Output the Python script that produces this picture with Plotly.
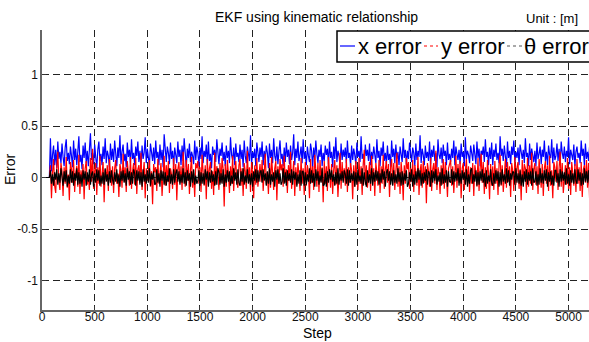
import plotly.graph_objects as go

# ---- data (errors in centimetres, one sample every 10 steps) ----
step_interval = 10
lead_in = [0, 0, 0, 0, 0, 0, 0, 0]

x_error_cm = lead_in + [
    38,6,22,31,12,27,9,35,18,25,14,33,20,11,29,37,16,24,13,30,
    21,10,36,17,28,12,25,40,15,22,8,31,19,34,14,26,11,29,43,17,
    24,13,32,20,9,27,35,16,23,12,30,18,38,14,26,21,10,33,17,28,
    15,36,22,11,29,19,41,13,25,32,16,23,10,34,20,27,14,37,18,24,
    12,30,21,35,15,26,9,31,18,24,39,14,28,20,11,33,23,16,29,13,
    36,19,25,12,32,17,27,10,42,21,15,30,24,13,34,18,26,11,29,22,
    14,35,20,27,12,31,16,38,23,10,28,19,33,15,25,21,13,36,17,30,
    24,11,29,18,40,14,26,20,32,12,35,16,23,9,30,22,27,15,37,19,
    13,28,21,34,16,25,11,31,19,26,14,39,22,17,29,12,33,20,24,15,
    32,18,27,10,36,21,14,30,23,16,41,13,25,19,28,11,34,22,15,29,
    20,35,12,26,17,31,24,9,33,19,27,14,38,21,16,30,13,25,36,18,
    23,11,29,15,34,20,27,13,31,17,24,42,12,28,19,35,16,22,30,14,
    37,18,25,12,30,21,15,33,26,10,29,17,36,23,14,27,20,32,11,24,
    16,31,22,28,13,35,19,25,10,30,18,39,15,26,21,12,33,17,27,20,
    29,14,36,19,24,11,31,17,28,22,13,34,20,26,15,40,18,23,12,32,
    21,27,16,33,12,25,18,30,23,14,37,19,26,11,29,21,35,16,24,13,
    31,17,23,10,36,20,28,14,32,18,25,12,30,22,15,38,19,27,13,26,
    18,34,21,15,29,24,11,33,17,26,20,41,14,28,22,12,31,19,25,16,
    35,13,27,20,31,16,24,10,37,22,18,29,14,32,21,26,12,34,17,23,
    15,28,19,36,12,30,23,17,27,13,33,20,25,11,39,18,26,22,14,31,
    24,16,32,21,13,35,19,28,11,26,22,30,15,37,20,25,12,29,18,34,
    12,27,20,33,17,24,14,40,21,28,16,31,23,10,35,19,26,13,30,22,
    36,15,25,19,29,12,32,22,18,27,14,38,20,24,11,33,17,28,21,15,
    26,11,34,18,23,30,13,27,20,36,16,25,12,31,22,19,37,14,29,17,
    21,33,16,28,12,35,24,18,30,15,26,20,39,13,27,22,17,32,11,25,
    30,19,24,14,36,21,28,12,33,18,25,16,31,23,15,34,20,27,13,29,
]

y_error_cm = lead_in + [
    12,-20,5,18,-8,-15,9,25,-3,-12,14,6,-18,10,-6,20,-10,3,-22,15,
    8,-5,17,-14,4,11,-9,22,-16,7,-3,13,-21,9,16,-7,2,-12,19,-4,
    28,-11,6,14,-17,10,-6,21,-9,3,15,-24,8,-2,12,-13,18,5,-8,11,
    -15,9,17,-6,4,-19,13,7,-10,23,-4,10,-14,16,2,-8,20,-11,6,14,
    -7,19,-16,8,12,-5,24,-12,3,15,-20,9,-3,11,17,-9,6,-26,13,5,
    10,-13,18,-6,7,14,-18,4,21,-8,12,-4,16,-15,9,3,-11,19,-7,13,
    -22,8,15,-5,11,-12,25,6,-9,17,-3,13,-16,7,20,-10,4,-19,14,9,
    16,-6,10,-14,22,5,-8,12,-21,18,-4,9,15,-11,6,-17,24,-7,11,3,
    -12,14,-5,19,8,-28,13,-9,17,4,-15,11,-6,21,-13,7,16,-4,-10,12,
    18,-8,9,-18,14,6,-11,26,-5,10,-14,15,3,-20,12,-7,19,-9,8,13,
    -4,17,-13,11,23,-7,5,-16,14,-10,20,4,-12,9,16,-22,11,-6,18,7,
    13,-9,21,-5,8,-15,12,-3,25,-11,6,16,-18,10,-7,14,3,-13,19,-6,
    9,-17,15,-8,12,4,-20,18,-5,11,-12,22,7,-9,14,-14,17,-4,10,-24,
    16,-6,11,-13,20,5,-10,13,-16,8,17,-7,12,-19,6,24,-11,15,-3,9,
    -8,18,-14,10,-5,14,7,-21,12,-9,16,3,-12,19,-6,11,-17,13,27,-7,
    12,-10,6,15,-13,21,-4,9,-18,14,5,-8,17,-15,11,-6,22,-11,8,16,
    -5,13,-19,10,18,-7,14,-12,6,24,-9,11,-16,15,3,-22,12,-6,19,8,
    15,-11,9,-4,17,-14,12,5,-8,20,-17,7,13,-10,16,-5,11,-25,14,6,
    -9,19,-13,8,14,-6,26,-12,10,4,-16,12,-7,18,-11,15,3,-19,9,13,
    17,-8,11,-15,7,21,-10,13,-5,16,-20,9,14,-12,6,18,-7,11,-14,10,
    -6,14,-18,12,5,-9,19,-13,8,23,-5,15,-16,10,-11,17,4,-21,13,-8,
    11,-12,16,-6,9,-17,13,22,-8,12,-14,7,18,-10,15,-4,11,-19,14,6,
    -13,20,-7,10,15,-11,8,-22,17,-5,13,9,-15,19,-9,12,-6,24,-12,8,
    14,-7,11,-16,18,5,-10,13,-18,9,16,-6,12,-13,21,-8,7,-20,15,10,
    -4,16,-12,9,25,-9,14,-15,6,12,-7,19,-11,10,-17,15,4,-8,13,-14,
    18,-6,10,-13,15,-19,8,12,-5,17,-10,14,-22,9,16,-7,27,-12,11,6,
]

theta_error_cm = lead_in + [
    7,-6,3,-8,5,-2,8,-7,4,-5,9,-3,-8,6,-4,7,-9,2,-6,8,
    -5,6,-8,4,-3,9,-7,5,-6,3,-9,7,-2,6,-8,5,-4,8,-7,3,
    6,-9,4,-5,8,-3,7,-8,2,-6,5,-7,9,-4,3,-8,6,-5,7,-2,
    -7,5,-4,8,-6,3,-9,6,-3,7,-5,4,-8,9,-2,6,-7,5,-6,8,
    4,-8,7,-3,6,-7,5,-9,8,-4,3,-6,7,-5,9,-8,4,-2,6,-7,
    -6,8,-5,4,-9,7,-3,6,-7,5,-8,2,-4,9,-6,3,-7,8,-5,4,
    8,-4,6,-7,3,-5,9,-6,5,-8,7,-3,4,-9,6,-5,8,-7,2,-6,
    -3,7,-8,5,-6,4,-7,8,-2,6,-9,5,-5,7,-4,3,-8,6,-7,9,
    5,-7,4,-6,8,-9,3,-5,7,-4,6,-8,2,-6,9,-3,5,-7,8,-5,
    -8,6,-4,9,-7,2,-5,8,-6,3,-7,4,-9,6,-3,8,-5,7,-4,5,
    7,-5,8,-3,4,-8,6,-6,9,-7,3,-4,5,-9,7,-2,8,-6,4,-7,
    -4,9,-6,5,-8,7,-3,4,-5,8,-7,6,-2,5,-9,3,-6,7,-8,6,
    6,-8,5,-7,3,-4,9,-6,7,-5,4,-9,8,-3,6,-7,2,-5,9,-8,
    -7,4,-9,6,-5,8,-2,7,-4,3,-8,5,-6,9,-7,4,-3,6,-5,7,
    3,-6,8,-8,7,-5,4,-3,6,-9,5,-7,8,-4,2,-6,9,-8,5,-4,
    -9,7,-5,3,-6,9,-8,5,-4,7,-3,6,-7,4,-5,8,-2,6,-9,5,
    8,-3,6,-7,4,-8,7,-5,3,-6,9,-4,5,-8,6,-7,4,-3,7,-9,
    -6,5,-4,8,-9,3,-7,6,-5,9,-2,7,-8,4,-6,5,-3,8,-7,6,
    4,-9,7,-5,6,-3,8,-7,2,-4,5,-8,9,-6,3,-5,7,-9,6,-4,
    -5,8,-7,6,-4,5,-3,9,-8,4,-6,7,-2,5,-7,8,-9,3,-6,7,
    9,-6,3,-4,7,-8,5,-7,6,-3,8,-5,4,-9,7,-6,2,-4,8,-5,
    -8,4,-6,7,-3,6,-9,5,-7,8,-4,3,-6,9,-5,7,-8,4,-2,6,
    5,-7,9,-5,4,-6,7,-8,3,-9,6,-4,8,-7,5,-3,6,-8,9,-5,
    -4,6,-8,3,-7,9,-5,4,-6,7,-3,8,-9,5,-4,6,-7,2,-8,7,
    7,-5,4,-9,8,-4,6,-3,5,-7,9,-6,3,-8,7,-5,4,-6,8,-3,
    -6,8,-3,5,-8,4,-7,9,-4,6,-5,7,-9,3,-6,8,-2,5,-7,4,
]

series_names = ["x error", "y error", "\u03b8 error"]
series_colors = ["#0000ff", "#ff0000", "#000000"]
x_ticks = [0, 500, 1000, 1500, 2000, 2500, 3000, 3500, 4000, 4500, 5000]
y_ticks = [-1, -0.5, 0, 0.5, 1]
y_tick_text = ["-1", "-0.5", "0", "0.5", "1"]

FONT = "Arial, Liberation Sans, sans-serif"

fig = go.Figure()
for vals, name, col in zip([x_error_cm, y_error_cm, theta_error_cm], series_names, series_colors):
    steps = [i * step_interval for i in range(len(vals))]
    metres = [v / 100.0 for v in vals]
    fig.add_trace(go.Scatter(x=steps, y=metres, mode="lines", name=name,
                             line=dict(color=col, width=1.2), hoverinfo="skip"))

# plot-area geometry in pixels (for placing text / legend box)
L, T, W, H = 42, 30, 547, 280
def px(x):
    return (x - L) / W
def py(y):
    return (T + H - y) / H

fig.update_layout(
    width=589, height=342,
    margin=dict(l=L, r=589 - L - W, t=T, b=342 - T - H, pad=0),
    paper_bgcolor="white", plot_bgcolor="white",
    showlegend=False,
    font=dict(family=FONT, size=12, color="#000000"),
)
fig.update_xaxes(
    range=[0, 5194], tickvals=x_ticks, ticks="inside", ticklen=4, tickcolor="#333333",
    showline=True, linecolor="#666666", linewidth=1.5,
    showgrid=True, gridcolor="#222222", gridwidth=1, griddash="7px,4px",
    zeroline=False, tickfont=dict(size=12, color="#111111"),
    ticklabelstandoff=-5,
)
fig.update_yaxes(
    range=[-1.286, 1.432], tickvals=y_ticks, ticktext=y_tick_text,
    ticks="inside", ticklen=4, tickcolor="#333333",
    showline=True, linecolor="#666666", linewidth=1.5,
    showgrid=True, gridcolor="#222222", gridwidth=1, griddash="7px,4px",
    zeroline=False, tickfont=dict(size=12, color="#111111"),
)

ann = []
ann.append(dict(text="EKF using kinematic relationship", x=px(316), y=py(17), xref="paper", yref="paper",
                xanchor="center", yanchor="middle", showarrow=False, font=dict(size=14, family=FONT)))
ann.append(dict(text="Unit : [m]", x=px(552), y=py(19), xref="paper", yref="paper",
                xanchor="center", yanchor="middle", showarrow=False, font=dict(size=13, family=FONT)))
ann.append(dict(text="Step", x=px(317), y=py(333), xref="paper", yref="paper",
                xanchor="center", yanchor="middle", showarrow=False, font=dict(size=14, family=FONT)))
ann.append(dict(text="Error", x=px(10), y=py(170), xref="paper", yref="paper", textangle=-90,
                xanchor="center", yanchor="middle", showarrow=False, font=dict(size=14, family=FONT)))

# legend box drawn manually (narrow sample lines, as in the reference)
shapes = [dict(type="rect", xref="paper", yref="paper", x0=px(337), x1=px(600), y0=py(62), y1=py(31),
               fillcolor="white", line=dict(color="#000000", width=1.5), layer="above")]
legend_y = py(46)
sample_spans = [(340, 355), (424, 438), (507, 522)]
text_left = [357, 440, 523]
sample_dash = ["solid", "dot", "dot"]
sample_col = ["#0000ff", "#ff0000", "#555555"]
for (a, b), tl, name, d, c in zip(sample_spans, text_left, series_names, sample_dash, sample_col):
    shapes.append(dict(type="line", xref="paper", yref="paper", x0=px(a), x1=px(b), y0=legend_y, y1=legend_y,
                       line=dict(color=c, width=1.2, dash=d), layer="above"))
    ann.append(dict(text=name, x=px(tl), y=legend_y, xref="paper", yref="paper",
                    xanchor="left", yanchor="middle", showarrow=False, borderpad=0,
                    font=dict(size=22, family=FONT, color="#000000")))

fig.update_layout(annotations=ann, shapes=shapes)
fig.write_html("out.html")
